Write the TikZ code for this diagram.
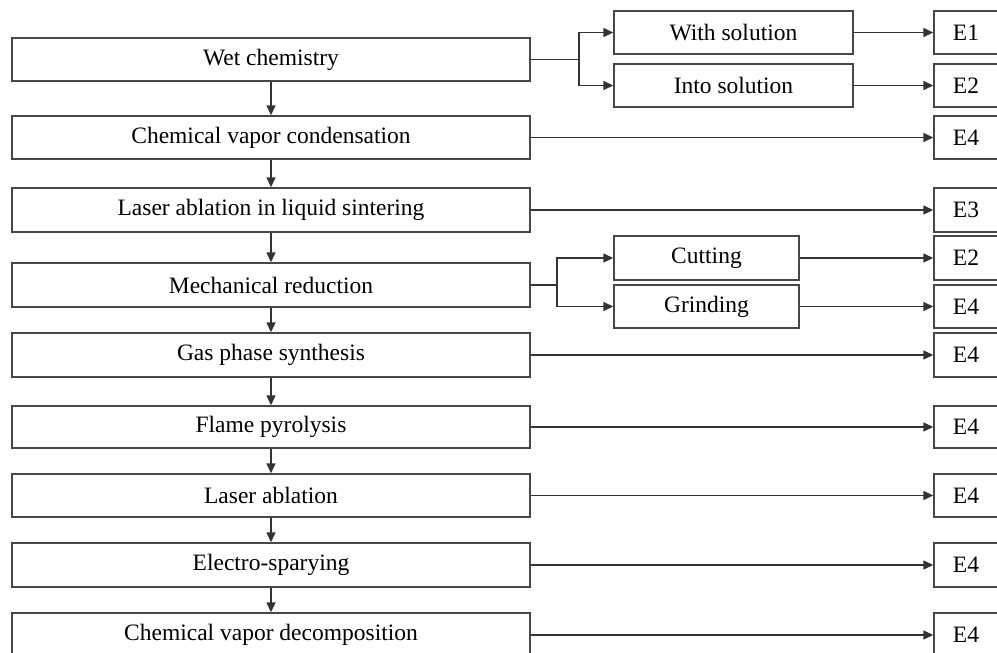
\documentclass[tikz,border=0pt]{standalone}
\usepackage{fontspec}
\setmainfont{Liberation Serif}
\usetikzlibrary{arrows.meta}
\begin{document}
\begin{tikzpicture}[x=1pt,y=-1pt,
  box/.style={draw=black!72,line width=1.4pt,rectangle,inner sep=0pt,minimum height=43pt,
    font=\fontsize{23.5}{25}\selectfont,text=black},
  leftbox/.style={box,minimum width=518pt},
  midbox/.style={box,minimum width=239pt},
  cutbox/.style={box,minimum width=185pt},
  ebox/.style={box,minimum width=64pt},
  conn/.style={draw=black!80,line width=1.4pt},
  arr/.style={conn,-{Triangle[length=10pt,width=9pt]}}]
\useasboundingbox (0,0) rectangle (997,653);
% left column
\node[leftbox] (wet)  at (271,59.5) {Wet chemistry};
\node[leftbox] (cvc)  at (271,137.5) {Chemical vapor condensation};
\node[leftbox,minimum height=44pt] (lal)  at (271,210) {Laser ablation in liquid sintering};
\node[leftbox,minimum height=44pt] (mech) at (271,285) {Mechanical reduction};
\node[leftbox,minimum height=44pt] (gas)  at (271,355) {Gas phase synthesis};
\node[leftbox,minimum height=42pt] (flame) at (271,427) {Flame pyrolysis};
\node[leftbox] (la)   at (271,495.5) {Laser ablation};
\node[leftbox,minimum height=44pt] (es)   at (271,565) {Electro-sparying};
\node[leftbox,minimum height=44pt] (cvd)  at (271,635) {Chemical vapor decomposition};
% middle boxes
\node[midbox] (with) at (733.5,32.5) {With solution};
\node[midbox] (into) at (733.5,85.5) {Into solution};
\node[cutbox,minimum height=44pt] (cut)  at (706.5,258) {Cutting};
\node[cutbox] (grind) at (706.5,306.5) {Grinding};
% E boxes
\node[ebox] (e1) at (966,32.5) {E1};
\node[ebox] (e2a) at (966,85.5) {E2};
\node[ebox] (e4a) at (966,137.5) {E4};
\node[ebox,minimum height=44pt] (e3) at (966,210) {E3};
\node[ebox,minimum height=44pt] (e2b) at (966,258) {E2};
\node[ebox] (e4b) at (966,306.5) {E4};
\node[ebox,minimum height=44pt] (e4c) at (966,355) {E4};
\node[ebox,minimum height=42pt] (e4d) at (966,427) {E4};
\node[ebox] (e4e) at (966,495.5) {E4};
\node[ebox,minimum height=44pt] (e4f) at (966,565) {E4};
\node[ebox,minimum height=44pt] (e4g) at (966,635) {E4};
% vertical chain
\foreach \a/\b in {wet/cvc,cvc/lal,lal/mech,mech/gas,gas/flame,flame/la,la/es,es/cvd}
  \draw[arr] (\a.south) -- (\b.north);
% branches
\coordinate (j1) at (579,59.5);
\draw[conn] (wet.east) -- (j1);
\draw[arr] (j1) |- (with.west);
\draw[arr] (j1) |- (into.west);
\coordinate (j2) at (557,285);
\draw[conn] (mech.east) -- (j2);
\draw[arr] (j2) |- (cut.west);
\draw[arr] (j2) |- (grind.west);
% to E boxes
\draw[arr] (with.east) -- (e1.west);
\draw[arr] (into.east) -- (e2a.west);
\draw[arr] (cvc.east) -- (e4a.west);
\draw[arr] (lal.east) -- (e3.west);
\draw[arr] (cut.east) -- (e2b.west);
\draw[arr] (grind.east) -- (e4b.west);
\draw[arr] (gas.east) -- (e4c.west);
\draw[arr] (flame.east) -- (e4d.west);
\draw[arr] (la.east) -- (e4e.west);
\draw[arr] (es.east) -- (e4f.west);
\draw[arr] (cvd.east) -- (e4g.west);
\end{tikzpicture}
\end{document}
